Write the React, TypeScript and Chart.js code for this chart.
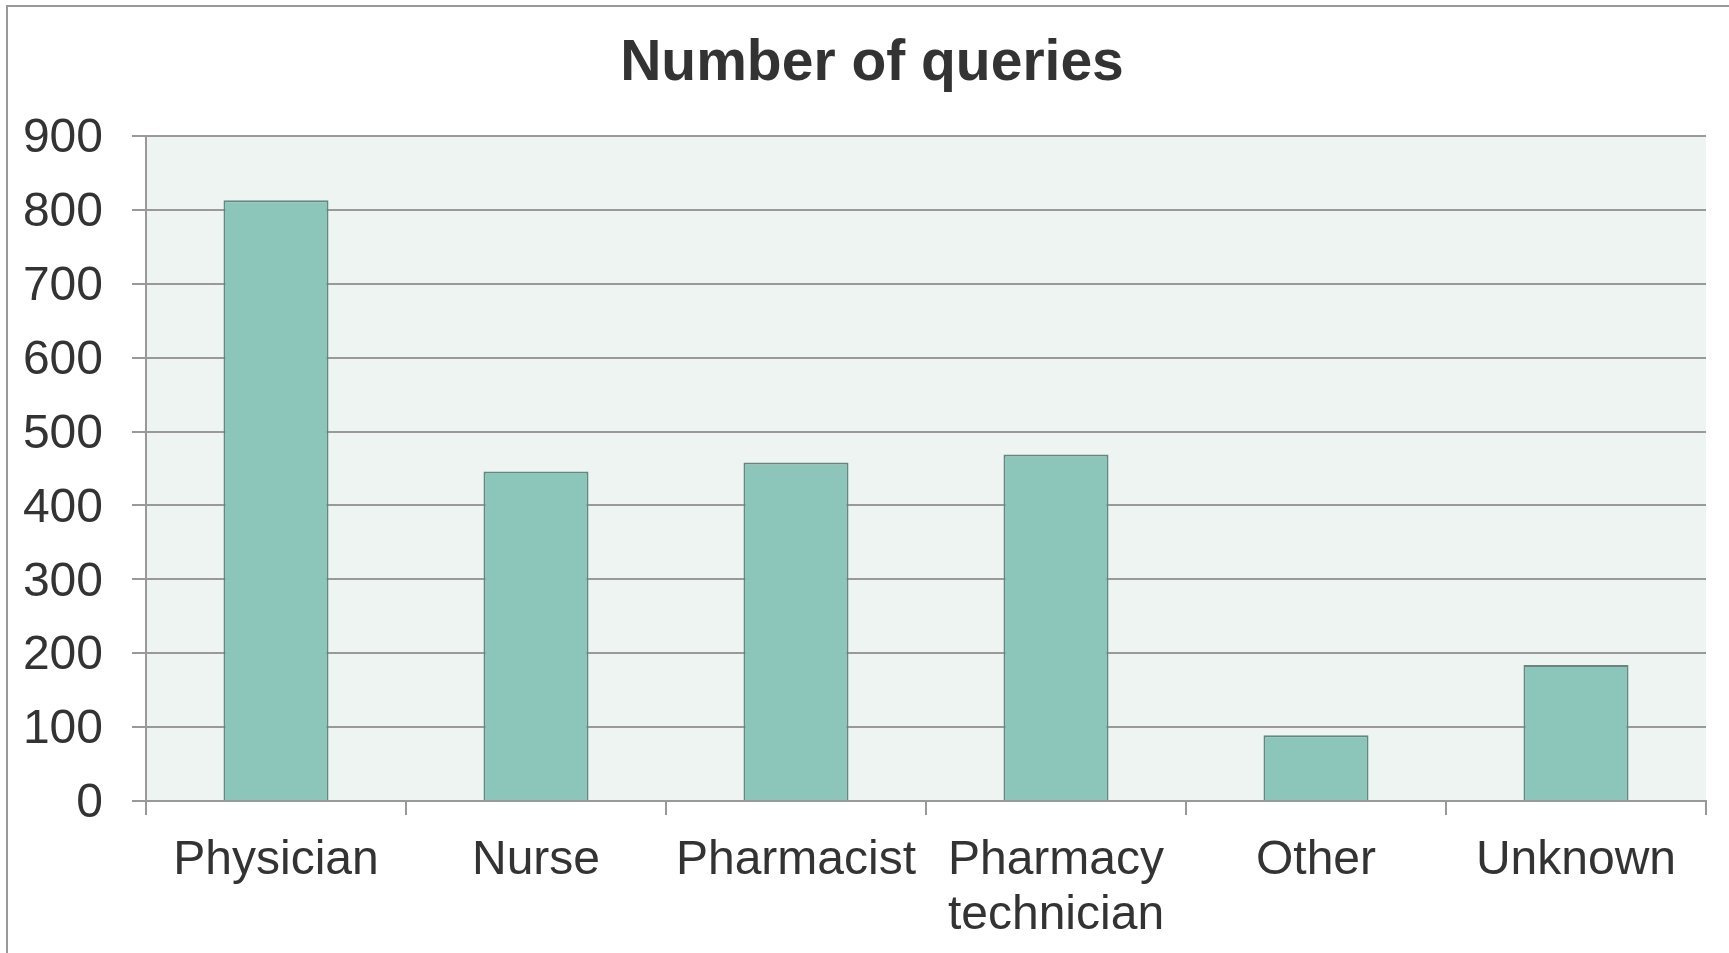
import React, { useEffect, useRef } from "react";
import { Chart, registerables } from "chart.js";

Chart.register(...registerables);

const categories: (string | string[])[] = [
  "Physician",
  "Nurse",
  "Pharmacist",
  ["Pharmacy", "technician"],
  "Other",
  "Unknown",
];
const queryCounts: number[] = [813, 446, 458, 469, 89, 184];
const yTickValues: number[] = [0, 100, 200, 300, 400, 500, 600, 700, 800, 900];
const chartTitle = "Number of queries";

const FONT = "'Liberation Sans', Arial, Helvetica, sans-serif";
const TEXT = "#333333";
const GRID = "#999999";

const framePlugin = {
  id: "frameAndBg",
  beforeDraw(chart: any) {
    const { ctx, chartArea, width, height } = chart;
    ctx.save();
    ctx.fillStyle = "#ffffff";
    ctx.fillRect(0, 0, width, height);
    ctx.strokeStyle = "#999999";
    ctx.lineWidth = 2;
    ctx.beginPath();
    ctx.moveTo(7, height + 5);
    ctx.lineTo(7, 6);
    ctx.lineTo(width + 5, 6);
    ctx.stroke();
    ctx.fillStyle = "#eef4f1";
    ctx.fillRect(
      chartArea.left,
      chartArea.top,
      chartArea.right - chartArea.left,
      chartArea.bottom - chartArea.top
    );
    ctx.restore();
  },
  afterDraw(chart: any) {
    const { ctx } = chart;
    ctx.save();
    ctx.fillStyle = TEXT;
    ctx.font = `bold 57px ${FONT}`;
    ctx.textAlign = "center";
    ctx.textBaseline = "middle";
    ctx.fillText(chartTitle, 872, 64.7);
    ctx.restore();
  },
};

export default function App() {
  const ref = useRef<HTMLCanvasElement | null>(null);

  useEffect(() => {
    if (!ref.current) return;
    const chart = new Chart(ref.current, {
      type: "bar",
      data: {
        labels: categories,
        datasets: [
          {
            data: queryCounts,
            backgroundColor: "#8cc5ba",
            borderColor: "#5d8b81",
            borderWidth: 2,
            categoryPercentage: 1,
            barPercentage: 0.404,
          },
        ],
      },
      options: {
        responsive: false,
        animation: false,
        layout: { padding: { left: 0, right: 23, top: 136, bottom: 0 } },
        plugins: {
          legend: { display: false },
          tooltip: { enabled: false },
          title: { display: false },
        },
        scales: {
          x: {
            grid: {
              offset: true,
              drawOnChartArea: false,
              drawTicks: true,
              tickLength: 14,
              color: GRID,
              lineWidth: 2,
            },
            border: { display: true, color: GRID, width: 2 },
            ticks: {
              color: TEXT,
              font: { family: FONT, size: 48, lineHeight: 1.15 },
              padding: 18,
              autoSkip: false,
              maxRotation: 0,
              minRotation: 0,
            },
            afterFit(scale: any) {
              scale.height = 152;
            },
          },
          y: {
            min: 0,
            max: 900,
            afterBuildTicks(scale: any) {
              scale.ticks = yTickValues.map((v) => ({ value: v }));
            },
            grid: {
              drawTicks: true,
              tickLength: 14,
              color: GRID,
              lineWidth: 2,
            },
            border: { display: true, color: GRID, width: 2 },
            ticks: {
              color: TEXT,
              font: { family: FONT, size: 48 },
              padding: 29,
              labelOffset: 3,
            },
            afterFit(scale: any) {
              scale.width = 146;
            },
          },
        },
      },
      plugins: [framePlugin],
    });
    return () => chart.destroy();
  }, []);

  return (
    <div style={{ position: "absolute", left: 0, top: 0, width: 1729, height: 953 }}>
      <canvas ref={ref} width={1729} height={953} style={{ display: "block" }} />
    </div>
  );
}
